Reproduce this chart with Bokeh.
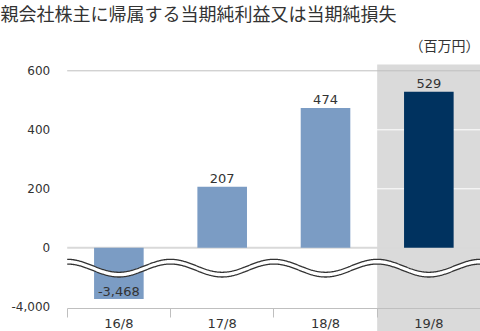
import numpy as np
from bokeh.plotting import figure
from bokeh.models import (Range1d, FixedTicker, LinearAxis, BoxAnnotation,
                          ColumnDataSource)
from bokeh.embed import file_html
from bokeh.resources import INLINE
from bokeh.core.properties import value

# ---- data ----
title_text = "親会社株主に帰属する当期純利益又は当期純損失"
unit_text = "（百万円）"
categories = ["16/8", "17/8", "18/8", "19/8"]
values = [-3468, 207, 474, 529]
highlight = [False, False, False, True]
y_tick_values = [600, 400, 200, 0, -4000]
y_tick_labels = ["600", "400", "200", "0", "-4,000"]

# negative values are drawn on a compressed (broken) scale
BREAK_SCALE = 20.0


def to_axis(v):
    r = v if v >= 0 else v / BREAK_SCALE
    return int(r) if float(r).is_integer() else r


def fmt(v):
    return f"{v:,}"


NUM_FONT = "DejaVu Sans"
JP_FONT = "Noto Sans CJK JP"
TXT = "#333333"

# ---- layout (pixels) ----
W, H = 480, 331
PLOT_LEFT_PX = 66.7          # left edge of the category area
Y600_PX, Y0_PX = 70.3, 247.3  # pixel rows of the 600 and 0 gridlines
BAND_TOP_PX = 64              # top of the highlight band
N = len(categories)
CAT_PX = (W - PLOT_LEFT_PX) / N
PX_PER_UNIT = (Y0_PX - Y600_PX) / 600.0
X_START = -PLOT_LEFT_PX / CAT_PX
Y_TOP = Y0_PX / PX_PER_UNIT
Y_BOTTOM = -(H - Y0_PX) / PX_PER_UNIT
BAND_TOP = (Y0_PX - BAND_TOP_PX) / PX_PER_UNIT
AXIS_Y = -(308 - Y0_PX) / PX_PER_UNIT

x = [i + 0.5 for i in range(N)]
y = [to_axis(v) for v in values]
colors = ["#00325f" if h else "#7b9cc4" for h in highlight]

src = ColumnDataSource(dict(x=x, y=y, color=colors))
pos = ColumnDataSource(dict(x=[a for a, v in zip(x, values) if v >= 0],
                            y=[b for b, v in zip(y, values) if v >= 0],
                            label=[fmt(v) for v in values if v >= 0]))
neg = ColumnDataSource(dict(x=[a for a, v in zip(x, values) if v < 0],
                            y=[b for b, v in zip(y, values) if v < 0],
                            label=[fmt(v) for v in values if v < 0]))

p = figure(width=W, height=H, output_backend="svg", toolbar_location=None,
           title=None,
           x_range=Range1d(X_START, N), y_range=Range1d(Y_BOTTOM, Y_TOP),
           x_axis_type=None, y_axis_type=None,
           min_border=0)
p.outline_line_color = None
p.background_fill_color = "white"
p.border_fill_color = "white"

# highlight band for the latest period
hi = highlight.index(True)
p.add_layout(BoxAnnotation(left=hi, right=hi + 1, top=BAND_TOP, fill_color="#dadada",
                           fill_alpha=1, line_color=None, level="image"))

# gridlines
yticks = [to_axis(v) for v in y_tick_values]
white_grid = [t for t in yticks if 0 < t < 600]
p.segment(x0=0, x1=N, y0=white_grid, y1=white_grid, line_color="white", line_width=1)
p.segment(x0=0, x1=N, y0=[600], y1=[600], line_color="#bfbfbf", line_width=1)
p.segment(x0=0, x1=N, y0=[0], y1=[0], line_color="#d9d9d9", line_width=2)

# bars
p.vbar(x="x", top="y", bottom=0, width=0.48, fill_color="color", line_color=None,
       source=src)

# axis break (wavy white band)
xs = np.linspace(0, N, 600)
wave = 22 * np.cos(2 * np.pi * xs)
upper = -61 + wave
lower = -77 + wave
p.varea(x=xs, y1=lower, y2=upper, fill_color="white")
p.line(xs, upper, line_color="#333333", line_width=1.3)
p.line(xs, lower, line_color="#333333", line_width=1.3)

# data labels
p.text(x="x", y="y", text="label", source=pos, text_align="center",
       text_baseline="bottom", y_offset=-4, text_font=value(NUM_FONT),
       text_font_size="13px", text_color=TXT)
p.text(x="x", y="y", text="label", source=neg, text_align="center",
       text_baseline="bottom", y_offset=-3, text_font=value(NUM_FONT),
       text_font_size="13px", text_color=TXT)

# y axis (inside the frame, at the left edge of the category area)
yaxis = LinearAxis(fixed_location=0, ticker=FixedTicker(ticks=yticks),
                   major_label_overrides={t: l for t, l in zip(yticks, y_tick_labels)},
                   axis_line_color=None, major_tick_line_color=None,
                   minor_tick_line_color=None, major_tick_out=0, major_tick_in=0,
                   major_label_standoff=17, major_label_text_font=NUM_FONT,
                   major_label_text_font_size="12px", major_label_text_color=TXT)
p.add_layout(yaxis, "left")

# x axis
xaxis = LinearAxis(fixed_location=AXIS_Y, bounds=(0, N),
                   ticker=FixedTicker(ticks=x, minor_ticks=list(range(N + 1))),
                   major_label_overrides={t: c for t, c in zip(x, categories)},
                   axis_line_color="#bfbfbf", axis_line_width=1,
                   major_tick_line_color=None, major_tick_out=0, major_tick_in=0,
                   minor_tick_line_color="#bfbfbf", minor_tick_in=0, minor_tick_out=9,
                   major_label_standoff=-2, major_label_text_font=NUM_FONT,
                   major_label_text_font_size="13px", major_label_text_color=TXT)
p.add_layout(xaxis, "below")

# title and unit
p.text(x=[X_START], y=[Y_TOP], text=[title_text], text_align="left",
       text_baseline="middle", y_offset=12.5, text_font=value(JP_FONT),
       text_font_size="18px", text_color=TXT)
p.text(x=[N], y=[Y_TOP], text=[unit_text], text_align="right",
       text_baseline="middle", x_offset=-1, y_offset=44, text_font=value(JP_FONT),
       text_font_size="14px", text_color=TXT)

open("out.html", "w").write(file_html(p, INLINE))
